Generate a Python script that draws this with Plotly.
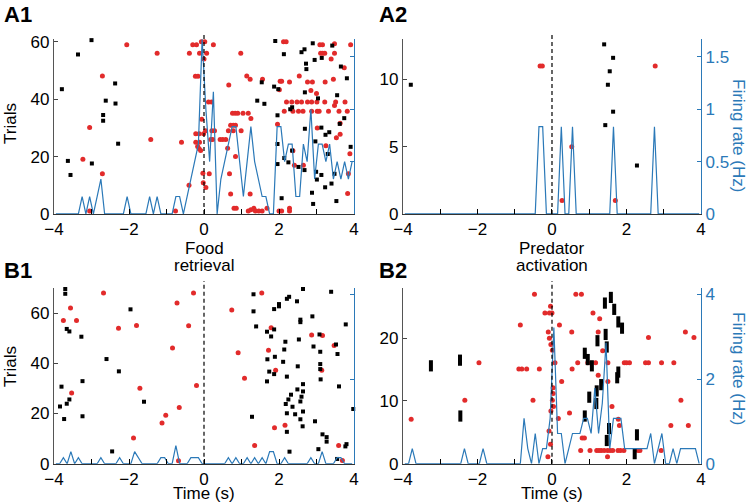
import numpy as np
import plotly.graph_objects as go

# raster + PSTH, 4 panels (A1 food / A2 predator, B1 food / B2 predator)
BIN_S = 0.1
BIN_T = np.round(-3.95 + BIN_S * np.arange(80), 2)

# ---- A1 : food retrieval ----
A1_BLACK_T = [-3.79, -3.63, -3.56, -3.36, -3.00, -2.99, -2.69, -2.69, -2.62, -2.37, -2.36, -2.29,
              1.42, 1.61, 1.54, 1.87, 1.90, 1.98, 1.96, 1.96, 1.96, 2.07,
              2.13, 2.14, 2.30, 2.35, 2.25, 2.35, 2.52, 2.60, 2.68, 2.72,
              2.73, 2.69, 2.69, 2.68, 2.90, 2.88, 2.91, 2.95, 2.97, 2.99,
              3.01, 3.04, 3.13, 3.14, 3.13, 3.23, 3.24, 3.30, 3.34, 3.42,
              3.40, 3.48, 3.53, 3.55, 3.62, 3.65, 3.74, 3.81, 3.91]
A1_BLACK_TRIAL = [43.5, 18.5, 13.6, 55.6, 60.6, 17.6, 34.5, 32.5, 39.5, 45.5, 38.5, 24.5,
                  39.5, 38.4, 45.9, 44.4, 60.3, 43.5, 34.4, 24.4, 17.4, 5.5,
                  55.7, 19.5, 36.5, 37.2, 18.0, 22.1, 16.4, 56.4, 57.4, 52.4,
                  50.5, 42.4, 29.7, 15.3, 59.5, 7.4, 3.5, 53.7, 25.3, 14.7,
                  12.0, 40.3, 30.1, 54.4, 13.6, 9.3, 27.6, 20.9, 28.5, 58.7,
                  10.6, 14.0, 4.5, 41.4, 31.4, 51.4, 33.4, 47.3, 23.4]
A1_RED_T = [-3.23, -3.05, -3.05, -2.71, -2.71, -2.06, -1.42, -1.25, -0.76, -0.60, -0.40, -0.39,
            -0.30, -0.20, -0.07, 0.02, 0.25, -0.12, 0.07, 0.00, -0.23, -0.16, 0.12, 0.20, -0.06,
            -0.22, -0.13, -0.01, 0.04, 0.21, 0.28, 0.18, 0.23, -0.22, -0.12, -0.17, -0.13, -0.09,
            -0.03, -0.02, 0.05, 0.14,
            0.98, 0.66, 1.14, 1.23, 0.76, 0.83, 0.90, 1.04, 1.18, 1.25, 0.71, 0.78, 0.84, 0.65,
            0.78, 0.99, 0.43, 0.50, 0.58, 0.63, 0.84, 0.68, 0.71, 1.23, 0.80, 0.86, 1.18, 1.25,
            1.33, 1.37, 1.46, 1.55, 1.68, 1.56, 1.96, 2.03, 2.07, 2.01, 2.00, 2.07, 2.12, 2.19,
            2.28, 2.28, 2.28, 2.37,
            2.20, 2.34, 2.48, 2.60, 2.76, 2.87, 3.01, 3.22, 3.51, 3.76,
            2.14, 2.37, 2.52, 2.64, 2.87, 3.02, 3.07, 3.32, 3.60, 3.82,
            2.54, 2.76, 2.89, 2.85, 3.00, 3.09, 3.16, 3.11, 3.16, 3.22, 3.48, 3.39, 3.48, 3.74,
            3.91, 3.23, 3.45, 3.48, 3.02, 3.25, 3.63, 3.53, 3.63, 3.83, 3.89, 3.85, 2.41, 2.65]
A1_RED_TRIAL = [19.1, 30.1, 1.0, 48.1, 14.0, 59.0, 26.0, 56.0, 1.0, 25.0, 10.0, 56.0,
                59.0, 59.0, 60.0, 60.0, 59.0, 56.0, 56.0, 54.0, 48.0, 48.0, 39.0, 39.0, 33.0,
                28.0, 28.0, 28.0, 29.0, 29.0, 29.0, 26.0, 26.0, 25.0, 25.0, 23.5, 22.7, 22.1,
                14.2, 10.9, 9.2, 14.0,
                56.0, 45.0, 48.1, 47.0, 35.1, 35.1, 35.1, 35.1, 35.1, 33.3, 30.9, 30.9, 30.9, 29.0,
                29.0, 29.0, 26.0, 26.0, 26.0, 22.9, 20.0, 14.0, 7.0, 7.0, 2.0, 2.0, 1.0, 1.5,
                2.0, 1.0, 1.0, 1.0, 2.0, 47.0, 31.3, 46.3, 46.3, 43.3, 1.0, 1.0, 60.0, 60.0,
                46.0, 2.0, 1.0, 22.0,
                39.0, 39.0, 39.0, 39.0, 39.0, 39.0, 39.0, 39.0, 39.0, 39.0,
                35.8, 35.8, 35.8, 35.8, 35.8, 35.8, 35.8, 35.8, 35.8, 35.8,
                48.1, 46.0, 46.0, 43.0, 42.0, 59.0, 59.0, 56.0, 56.0, 56.0, 56.0, 54.0, 59.3, 51.0,
                59.0, 46.0, 47.0, 37.8, 30.0, 23.8, 27.8, 26.6, 31.6, 7.1, 21.0, 14.0, 17.0, 17.0]
A1_COUNTS = [0, 0, 0, 0, 0, 0, 0, 1, 0, 1, 0, 1, 2, 0, 0, 0, 0, 0, 0, 1,
             0, 0, 0, 0, 0, 1, 0, 1, 0, 0, 0, 0, 1, 1, 0, 1, 2, 3, 4, 10,
             6, 3, 7, 0, 2, 3, 4, 5, 5, 3, 1, 3, 5, 3, 2, 1, 1, 0, 0, 5,
             5, 3, 4, 4, 1, 1, 4, 3, 6, 2, 4, 4, 3, 4, 2, 3, 2, 3, 2, 3]
A1_TRIALS = 60

# ---- A2 : predator activation ----
A2_BLACK_T = [-3.79, 1.40, 1.64, 1.55, 1.50, 1.64, 1.43, 2.28]
A2_BLACK_TRIAL = [9.6, 12.6, 11.6, 10.6, 9.6, 7.6, 6.6, 3.6]
A2_RED_T = [-0.32, -0.26, 2.77, 0.53, 0.27, 1.70]
A2_RED_TRIAL = [11.0, 11.0, 11.0, 5.0, 1.0, 1.0]
A2_COUNTS = [0] * 36 + [1, 1, 0, 0, 0, 0, 1, 0, 0, 1] + [0] * 10 + [1] + [0] * 10 + [1] + [0] * 12
A2_TRIALS = 12

# ---- B1 : food retrieval ----
B1_BLACK_T = [-3.70, -3.70, -3.66, -3.59, -3.27, -3.80, -3.66, -3.59, -3.84, -3.73, -3.24, -3.24,
              -2.60, -1.96, -2.27, -1.60, -2.45,
              1.32, 2.64, 3.39, 2.27, 2.21, 2.00, 2.00, 1.87, 1.32, 2.48, 2.57, 2.57, 2.89,
              3.78, 1.39, 1.68, 1.79, 1.87, 3.08, 2.53, 2.17, 3.52, 2.92, 2.14, 3.10, 3.56,
              1.89, 1.69, 2.11, 2.50, 3.10, 3.10, 1.74, 1.87, 2.21, 3.11, 1.68, 2.64, 3.60,
              2.49, 2.64, 2.32, 2.25, 2.60, 2.57, 2.18, 2.36, 2.64, 2.21, 2.43, 1.28, 2.57,
              3.98, 2.96, 2.63, 2.21, 3.16, 3.27, 3.27, 3.05, 2.28, 3.80, 3.77, 3.55]
B1_BLACK_TRIAL = [69.6, 67.7, 53.7, 52.7, 50.6, 30.7, 23.9, 25.6, 22.8, 17.8, 32.9, 18.9,
                  41.7, 61.5, 36.8, 24.7, 4.9,
                  67.5, 69.6, 68.5, 66.5, 65.7, 63.6, 62.7, 61.6, 60.7, 64.7, 57.4, 56.4, 58.7,
                  55.5, 54.7, 52.6, 50.7, 53.5, 51.5, 49.5, 48.6, 47.5, 46.7, 45.5, 44.6, 43.7,
                  42.6, 41.6, 40.6, 38.8, 39.7, 37.7, 36.7, 35.7, 34.7, 33.6, 32.8, 31.7, 30.8,
                  29.6, 28.8, 27.5, 25.6, 26.7, 24.8, 23.8, 22.7, 20.8, 20.1, 19.7, 18.7, 17.7,
                  21.8, 16.9, 14.9, 12.7, 11.7, 10.6, 8.8, 5.8, 4.8, 7.8, 6.9, 1.9]
B1_RED_T = [-3.75, -3.56, -3.40, -3.53, -2.68, -2.28, -1.80, -1.71, -1.88, -1.12, -1.02, -0.84,
            -0.66, -0.72, -0.41, -0.28, -0.20, -0.68,
            0.74, 1.54, 0.91, 1.08, 1.79, 1.72, 1.91, 2.87, 3.16, 3.47, 3.14, 1.88, 2.16,
            1.35, 3.59, 3.69]
B1_RED_TRIAL = [57.1, 62.0, 57.1, 28.2, 68.0, 54.0, 55.1, 30.1, 10.2, 16.2, 19.3, 46.1,
                22.4, 64.0, 55.0, 68.0, 31.2, 1.2,
                61.2, 68.0, 44.2, 34.1, 54.2, 45.2, 37.2, 51.3, 51.1, 47.1, 37.2, 14.3, 15.3,
                7.3, 7.3, 1.3]
B1_COUNTS = [0, 0, 1, 0, 2, 0, 1, 0, 0, 0, 0, 0, 1, 0, 0, 0, 0, 1, 0, 0,
             0, 2, 1, 0, 0, 0, 0, 0, 1, 1, 0, 0, 3, 0, 0, 0, 1, 1, 1, 0,
             0, 0, 0, 0, 0, 0, 1, 0, 1, 0, 0, 1, 0, 1, 0, 1, 0, 2, 2, 0,
             0, 1, 0, 0, 0, 0, 0, 0, 1, 0, 0, 2, 0, 0, 0, 1, 1, 0, 0, 0]
B1_TRIALS = 70

# ---- B2 : predator activation ----
B2_BLACK_T = [-3.25, -2.47, -2.46, 0.88, 0.96, 1.07, 0.88, 1.00, 1.19, 1.22, 1.32, 1.42, 1.58,
              1.47, 1.44, 1.67, 1.78, 1.88, 1.75, 1.78, 1.53, 1.47, 2.28, 2.22, 1.20]
B2_BLACK_TRIAL = [15.6, 16.5, 7.6, 17.6, 16.6, 15.6, 7.6, 10.6, 9.6, 19.6, 12.6, 25.6, 26.5,
                  18.6, 20.6, 24.6, 22.6, 21.6, 13.7, 14.6, 5.6, 3.7, 4.6, 1.6, 11.6]
B2_RED_T = [-3.78, -2.34, -1.96, -0.47, -0.85, -0.89, -0.81, -0.68, -0.34, -0.51,
            0.64, 0.79, -0.04, -0.19, -0.07, 0.00, 1.10, 1.28, 0.20, 0.53, -0.10, 1.24, 3.58,
            3.81, 2.59, -0.07, -0.03, 0.01, 1.36,
            0.08, 0.69, 0.96, 1.17, 1.50, 1.94, 2.00, 2.08, 2.51, 2.59, 2.94, 3.27,
            0.26, 0.54, 1.24, 1.50, 0.03, 0.03, 0.01, 3.46, 0.04, 1.61, -0.03, 0.47, 0.17,
            3.19, 3.66, 1.78, 1.81, -0.08, 0.81, 0.87, -0.04, -0.11, 1.49,
            0.77, 1.02, 1.20, 1.26, 1.32, 1.40, 1.49, 1.56, 1.63, 1.77, 1.84, 1.93, 2.31,
            2.36, 2.93]
B2_RED_TRIAL = [7.1, 10.1, 16.1, 27.0, 22.1, 15.1, 15.1, 15.1, 15.1, 10.1,
                27.0, 27.0, 25.1, 24.0, 24.0, 24.0, 24.0, 23.1, 22.1, 21.0, 21.0, 21.0, 21.0,
                20.1, 20.1, 20.0, 19.0, 18.1, 18.0,
                16.1, 16.1, 16.1, 16.1, 16.1, 16.1, 16.1, 16.1, 16.1, 16.1, 16.1, 16.1,
                13.1, 15.1, 14.1, 13.1, 12.1, 11.2, 10.1, 10.1, 9.1, 9.1, 8.4, 8.1, 7.2,
                6.1, 6.1, 7.1, 6.1, 5.2, 4.1, 4.1, 3.1, 1.1, 1.1,
                2.1, 2.1, 2.1, 2.1, 2.1, 2.1, 2.1, 2.1, 2.1, 2.1, 2.1, 2.1, 2.1,
                2.1, 2.1]
B2_COUNTS = [0, 0, 1, 0, 0, 0, 0, 0, 0, 0, 0, 0, 0, 0, 0, 0, 1, 0, 0, 0,
             0, 1, 0, 0, 0, 0, 0, 0, 0, 0, 0, 0, 3, 1, 0, 2, 0, 1, 1, 3,
             9, 2, 2, 0, 1, 2, 2, 2, 3, 3, 2, 5, 2, 4, 8, 1, 3, 3, 3, 1,
             1, 1, 1, 1, 1, 1, 2, 0, 1, 2, 0, 0, 1, 0, 1, 1, 1, 1, 1, 0]
B2_TRIALS = 28

RED = '#e22b2b'
BLUE = '#2b79b8'
FONT = 'Liberation Sans, Arial, sans-serif'

panels = [
    dict(bt=A1_BLACK_T, bn=A1_BLACK_TRIAL, rt=A1_RED_T, rn=A1_RED_TRIAL, counts=A1_COUNTS,
         ntr=A1_TRIALS, yr=61, yt=[0, 20, 40, 60], y2r=1.67, y2t=[0, 0.5, 1, 1.5], lab2=False,
         xd=[0.072, 0.472], yd=[0.5746, 0.9225], bars=False),
    dict(bt=A2_BLACK_T, bn=A2_BLACK_TRIAL, rt=A2_RED_T, rn=A2_RED_TRIAL, counts=A2_COUNTS,
         ntr=A2_TRIALS, yr=13, yt=[0, 5, 10], y2r=1.67, y2t=[0, 0.5, 1, 1.5], lab2=True,
         xd=[0.5373, 0.9347], yd=[0.5746, 0.9225], bars=False),
    dict(bt=B1_BLACK_T, bn=B1_BLACK_TRIAL, rt=B1_RED_T, rn=B1_RED_TRIAL, counts=B1_COUNTS,
         ntr=B1_TRIALS, yr=70, yt=[0, 20, 40, 60], y2r=4.15, y2t=[0, 2, 4], lab2=False,
         xd=[0.072, 0.472], yd=[0.0781, 0.4274], bars=False),
    dict(bt=B2_BLACK_T, bn=B2_BLACK_TRIAL, rt=B2_RED_T, rn=B2_RED_TRIAL, counts=B2_COUNTS,
         ntr=B2_TRIALS, yr=28, yt=[0, 10, 20], y2r=4.15, y2t=[0, 2, 4], lab2=True,
         xd=[0.5373, 0.9347], yd=[0.0781, 0.4274], bars=True),
]

fig = go.Figure()
layout = {}
shapes = []
for i, p in enumerate(panels):
    n = i + 1
    xs = 'x' if n == 1 else f'x{n}'
    ys = 'y' if n == 1 else f'y{n}'
    y2s = f'y{n + 4}'

    fig.add_trace(go.Scatter(x=p['rt'], y=p['rn'], xaxis=xs, yaxis=ys, mode='markers',
                             marker=dict(color=RED, size=5), cliponaxis=False, showlegend=False))
    if p['bars']:
        mk = dict(symbol='line-ns', size=8, line=dict(width=4, color='black'))
    else:
        mk = dict(symbol='square', size=4, color='black')
    fig.add_trace(go.Scatter(x=p['bt'], y=p['bn'], xaxis=xs, yaxis=ys, mode='markers',
                             marker=mk, cliponaxis=False, showlegend=False))
    rate = np.array(p['counts']) / (p['ntr'] * BIN_S)
    fig.add_trace(go.Scatter(x=BIN_T, y=rate, xaxis=xs, yaxis=y2s, mode='lines',
                             line=dict(color=BLUE, width=1.2), cliponaxis=False, showlegend=False))

    tickfont = dict(family=FONT, size=17, color='black')
    layout['xaxis' if n == 1 else f'xaxis{n}'] = dict(
        domain=p['xd'], anchor=ys, range=[-4, 4], tickvals=[-4, -2, 0, 2, 4],
        ticks='inside', ticklen=5, tickcolor='black', showline=True, linecolor='#333',
        linewidth=1, showgrid=False, zeroline=False, tickfont=tickfont, automargin=False,
        minor=dict(dtick=1, tick0=0, ticks='inside', ticklen=5, tickcolor='black'))
    layout['yaxis' if n == 1 else f'yaxis{n}'] = dict(
        domain=p['yd'], anchor=xs, range=[0, p['yr']], tickvals=p['yt'],
        ticks='inside', ticklen=4, tickcolor='#444', showline=True, linecolor='#555',
        linewidth=1.2, showgrid=False, zeroline=False, tickfont=tickfont, automargin=False)
    layout[f'yaxis{n + 4}'] = dict(
        overlaying=ys, side='right', anchor=xs, range=[0, p['y2r']], tickvals=p['y2t'],
        ticks='inside', ticklen=4, tickcolor=BLUE, showline=True, linecolor=BLUE,
        linewidth=1.2, showgrid=False, zeroline=False, showticklabels=p['lab2'],
        tickfont=dict(family=FONT, size=17, color=BLUE), automargin=False)
    shapes.append(dict(type='line', xref=xs, yref=f'{ys} domain', x0=0, x1=0, y0=0, y1=1.04,
                       line=dict(color='black', width=1.2, dash='4px,3px')))


def ann(text, px, py, size=17, color='black', angle=0, xanchor='center'):
    return dict(text=text, x=px / 750, y=1 - py / 503, xref='paper', yref='paper',
                showarrow=False, textangle=angle, xanchor=xanchor, yanchor='middle',
                font=dict(family=FONT, size=size, color=color))


annotations = [
    ann('<b>A1</b>', 2, 14, size=22, xanchor='left'),
    ann('<b>A2</b>', 377, 14, size=22, xanchor='left'),
    ann('<b>B1</b>', 2, 270, size=22, xanchor='left'),
    ann('<b>B2</b>', 377, 270, size=22, xanchor='left'),
    ann('Trials', 10, 124, angle=-90),
    ann('Trials', 10, 367, angle=-90),
    ann('Firing rate (Hz)', 739, 135, color=BLUE, angle=90),
    ann('Firing rate (Hz)', 739, 368, color=BLUE, angle=90),
    ann('Food', 204, 248),
    ann('retrieval', 204, 265),
    ann('Predator', 552, 248),
    ann('activation', 552, 265),
    ann('Time (s)', 204, 493),
    ann('Time (s)', 552, 493),
]

fig.update_layout(**layout)
fig.update_layout(width=750, height=503,
                  margin=dict(l=0, r=0, t=0, b=0, pad=0, autoexpand=False),
                  plot_bgcolor='white', paper_bgcolor='white', showlegend=False,
                  shapes=shapes, annotations=annotations, font=dict(family=FONT))
# page body has a default 8px margin; drop it so the figure fills the window
fig.write_html("out.html", config={'displayModeBar': False},
               post_script="document.body.style.margin='0';")
